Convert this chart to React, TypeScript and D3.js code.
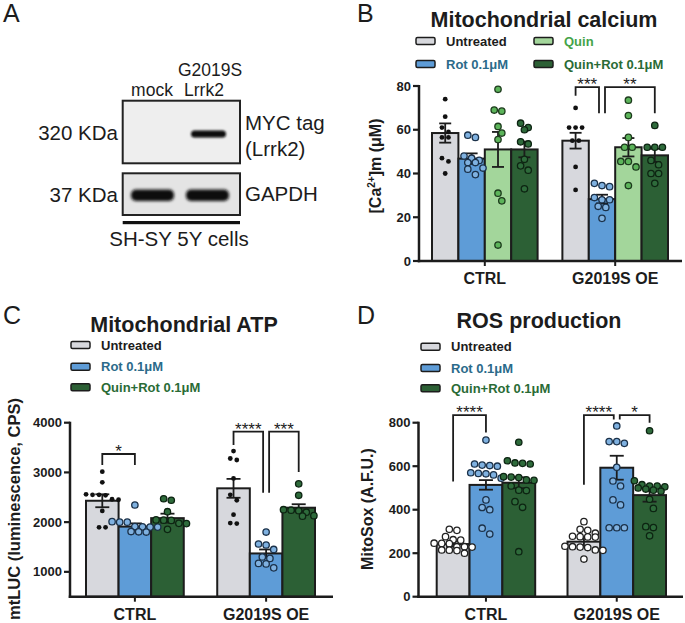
import React from "react";
import * as d3 from "d3";

const FONT = "'Liberation Sans', Arial, Helvetica, sans-serif";

// ---------- shared categories ----------
const groups = ["CTRL", "G2019S OE"];
const legendB = ["Untreated", "Rot 0.1μM", "Quin", "Quin+Rot 0.1μM"];
const legendCD = ["Untreated", "Rot 0.1μM", "Quin+Rot 0.1μM"];

// ---------- Panel B: mitochondrial calcium ----------
const caTicks = [0, 20, 40, 60, 80];
const caMean = [
  [58.5, 46.8, 51, 51],
  [55, 28.3, 52, 48.3],
];
const caSem = [
  [4.4, 2.4, 8, 3.6],
  [3.6, 2, 4.2, 3],
];
const caPoints = [
  [
    [74, 66, 61, 59, 56.5, 56.5, 47, 45.5, 40],
    [57.5, 56.5, 48, 47, 46, 45, 45, 42.5, 42, 39.5],
    [78.5, 69, 68.5, 61.5, 58.5, 55.5, 31, 27.5, 7.3],
    [63, 61, 60, 54.5, 53.5, 46.5, 43.5, 41.5, 33],
  ],
  [
    [70, 61, 61, 61, 55, 55, 43, 32.5],
    [35.5, 34.5, 34, 29, 28, 28, 25, 24.5, 19.5],
    [73.5, 66.5, 56.5, 52, 52, 45.5, 45.5, 43, 34.5],
    [62, 52, 52, 52, 46, 44, 40, 40, 35.5],
  ],
];
const caBrackets = [
  { g: 1, a: 0, b: 1, label: "***", top: 79.5, ya: 75.5, yb: 67.5 },
  { g: 1, a: 1, b: 3, label: "**", top: 79.5, ya: 67.5, yb: 67.5 },
];

// ---------- Panel C: mitochondrial ATP ----------
const atpTicks = [1000, 2000, 3000, 4000];
const atpMean = [
  [2430, 1910, 2080],
  [2680, 1370, 2290],
];
const atpSem = [
  [130, 65, 90],
  [190, 80, 70],
];
const atpPoints = [
  [
    [3015, 2800, 2560, 2550, 2550, 2540, 2460, 2450, 2225, 1895, 1895],
    [2345, 2010, 2000, 2000, 1910, 1905, 1900, 1900, 1810, 1805, 1800],
    [2470, 2440, 2210, 2045, 2040, 2035, 1975, 1970, 1855],
  ],
  [
    [3430, 3280, 3250, 2880, 2550, 2440, 2150, 1980, 1970],
    [1800, 1560, 1540, 1450, 1300, 1270, 1170, 1160, 1080],
    [2770, 2540, 2250, 2240, 2230, 2200, 2130, 2120],
  ],
];
const atpBrackets = [
  { g: 0, a: 0, b: 1, label: "*", top: 3370, ya: 3150, yb: 3150 },
  { g: 1, a: 0, b: 1, label: "****", top: 3820, ya: 3550, yb: 2590 },
  { g: 1, a: 1, b: 2, label: "***", top: 3820, ya: 2590, yb: 3010 },
];

// ---------- Panel D: ROS production ----------
const rosTicks = [0, 200, 400, 600, 800];
const rosMean = [
  [242, 514, 524],
  [253, 593, 467],
];
const rosSem = [
  [12, 22, 25],
  [20, 55, 30],
];
const rosPoints = [
  [
    [310, 305, 276, 262, 260, 246, 245, 244, 230, 230, 228, 215, 214, 212, 200],
    [720, 610, 605, 603, 600, 570, 567, 565, 560, 545, 445, 410, 400, 315, 288],
    [710, 625, 615, 613, 610, 552, 550, 548, 537, 535, 509, 490, 488, 437, 411, 207],
  ],
  [
    [345, 310, 305, 292, 278, 276, 275, 274, 232, 230, 228, 226, 215, 213, 173],
    [785, 713, 713, 705, 595, 532, 509, 445, 422, 317, 317, 317],
    [763, 533, 515, 509, 509, 505, 500, 495, 490, 485, 448, 406, 322, 318, 280],
  ],
];
const rosBrackets = [
  { g: 0, a: 0, b: 1, label: "****", top: 835, ya: 530, yb: 755 },
  { g: 1, a: 0, b: 1, label: "****", top: 835, ya: 515, yb: 815 },
  { g: 1, a: 1, b: 2, label: "*", top: 835, ya: 815, yb: 800 },
];

// ---------- styles ----------
const INK = "#1c1c1c";
const S_UNT = { bar: "#d7d8dd", text: "#1c1c1c", pt: { fill: "#111", stroke: "none", r: 2.4, sw: 0, gap: 6.5 } };
const S_UNT_D = { bar: "#d7d8dd", text: "#1c1c1c", pt: { fill: "#ffffff", stroke: "#222", r: 3.2, sw: 1.3, gap: 7.6 } };
const S_ROT = { bar: "#5e9cd7", text: "#2b6a8a", pt: { fill: "#7fb1e0", stroke: "#1b3149", r: 3.2, sw: 1.3, gap: 7.6 } };
const S_QUIN = { bar: "#a3d69b", text: "#45a349", pt: { fill: "#5cb45a", stroke: "#1d3b1d", r: 3.2, sw: 1.3, gap: 7.6 } };
const S_QR = { bar: "#2c6035", text: "#2a6b36", pt: { fill: "#2e6b3b", stroke: "#0d2412", r: 3.2, sw: 1.3, gap: 7.6 } };

// Prism-like scatter layout: points grouped in rows, each row centred
function swarmRows(ys: number[], D: number): number[] {
  const order = ys.map((_, i) => i).sort((a, b) => ys[a] - ys[b]);
  const out = new Array(ys.length).fill(0);
  let row: number[] = [];
  let y0 = -Infinity;
  let prevOdd = false;
  let prevY = -Infinity;
  const flush = () => {
    if (!row.length) return;
    const n = row.length;
    let shift = 0;
    const ymid = d3.mean(row, (i) => ys[i]) as number;
    if (n % 2 === 1 && prevOdd && ymid - prevY < D * 1.3) shift = D / 2;
    row.forEach((idx, k) => (out[idx] = (k - (n - 1) / 2) * D + shift));
    prevOdd = n % 2 === 1 && shift === 0;
    prevY = ymid;
  };
  for (const i of order) {
    if (ys[i] - y0 >= D * 0.85) {
      flush();
      row = [i];
      y0 = ys[i];
    } else row.push(i);
  }
  flush();
  return out;
}

type Bracket = { g: number; a: number; b: number; label: string; top: number; ya: number; yb: number };
type Style = { bar: string; text: string; pt: { fill: string; stroke: string; r: number; sw: number; gap: number } };

type ChartProps = {
  barRange: [number, number];
  padInner: number;
  axisX: [number, number];
  yDomain: [number, number];
  yRange: [number, number];
  ticks: number[];
  means: number[][];
  sems: number[][];
  points: number[][][];
  styles: Style[];
  brackets: Bracket[];
  xLabelY: number;
  capW: number;
};

function Chart(p: ChartProps) {
  const nT = p.styles.length;
  const xg = d3.scaleBand<string>().domain(groups).range(p.barRange).paddingInner(p.padInner).paddingOuter(0);
  const xt = d3.scaleBand<number>().domain(d3.range(nT)).range([0, xg.bandwidth()]);
  const y = d3.scaleLinear().domain(p.yDomain).range(p.yRange);
  const cx = (g: number, t: number) => (xg(groups[g]) as number) + (xt(t) as number) + xt.bandwidth() / 2;
  const base = p.yRange[0];
  const axL = p.axisX[0];

  const bars: React.ReactNode[] = [];
  const errs: React.ReactNode[] = [];
  const pts: React.ReactNode[] = [];
  groups.forEach((_, g) => {
    for (let t = 0; t < nT; t++) {
      const x0 = (xg(groups[g]) as number) + (xt(t) as number);
      const m = p.means[g][t];
      const s = p.sems[g][t];
      const st = p.styles[t];
      bars.push(
        <rect key={`b${g}${t}`} x={x0} y={y(m)} width={xt.bandwidth()} height={base - y(m)} fill={st.bar} stroke={INK} strokeWidth={2} />
      );
      const c = cx(g, t);
      errs.push(
        <g key={`e${g}${t}`} stroke={INK} strokeWidth={1.8}>
          <line x1={c} x2={c} y1={y(m + s)} y2={y(m - s)} />
          <line x1={c - p.capW / 2} x2={c + p.capW / 2} y1={y(m + s)} y2={y(m + s)} />
          <line x1={c - p.capW / 2} x2={c + p.capW / 2} y1={y(m - s)} y2={y(m - s)} />
        </g>
      );
      const vals = p.points[g][t];
      const ys = vals.map((v) => y(v));
      const offs = swarmRows(ys, st.pt.gap);
      vals.forEach((v, i) => {
        pts.push(
          <circle key={`p${g}${t}${i}`} cx={c + offs[i]} cy={ys[i]} r={st.pt.r} fill={st.pt.fill} stroke={st.pt.stroke} strokeWidth={st.pt.sw} />
        );
      });
    }
  });

  const brs = p.brackets.map((b, i) => {
    let xa = cx(b.g, b.a);
    let xb = cx(b.g, b.b);
    p.brackets.forEach((o, j) => {
      if (j === i || o.g !== b.g) return;
      if (o.a === b.b) xb -= 3;
      if (o.b === b.a) xa += 3;
    });
    return (
      <g key={`br${i}`}>
        <path d={`M${xa},${y(b.ya)}V${y(b.top)}H${xb}V${y(b.yb)}`} fill="none" stroke={INK} strokeWidth={1.8} />
        <text x={(xa + xb) / 2} y={y(b.top) + 3} textAnchor="middle" fontSize={17} fontFamily={FONT} fill={INK}>
          {b.label}
        </text>
      </g>
    );
  });

  return (
    <g>
      {bars}
      {errs}
      {pts}
      {brs}
      <line x1={axL} x2={axL} y1={p.yRange[1] - 1} y2={base + 1.25} stroke={INK} strokeWidth={2.5} />
      <line x1={axL - 1.25} x2={p.axisX[1]} y1={base} y2={base} stroke={INK} strokeWidth={2.5} />
      {p.ticks.map((t) => (
        <g key={`t${t}`}>
          <line x1={axL - 6} x2={axL} y1={y(t)} y2={y(t)} stroke={INK} strokeWidth={2.2} />
          <text x={axL - 8} y={y(t)} dy="0.35em" textAnchor="end" fontSize={13} fontWeight="bold" fontFamily={FONT} fill={INK}>
            {t}
          </text>
        </g>
      ))}
      {groups.map((gname, g) => {
        const c = (xg(gname) as number) + xg.bandwidth() / 2;
        return (
          <g key={`xl${g}`}>
            <line x1={c} x2={c} y1={base} y2={base + 5} stroke={INK} strokeWidth={2} />
            <text x={c} y={p.xLabelY} textAnchor="middle" fontSize={16} fontWeight="bold" fontFamily={FONT} fill={INK}>
              {gname}
            </text>
          </g>
        );
      })}
    </g>
  );
}

function Legend({ x, ys, labels, styles }: { x: number; ys: number[]; labels: string[]; styles: Style[] }) {
  return (
    <g>
      {labels.map((l, i) => (
        <g key={l}>
          <rect x={x} y={ys[i] - 3.5} width={19} height={7} rx={1.5} fill={styles[i].bar} stroke={INK} strokeWidth={1.5} />
          <text x={x + 30} y={ys[i]} dy="0.35em" fontSize={13} fontWeight="bold" fontFamily={FONT} fill={styles[i].text}>
            {l}
          </text>
        </g>
      ))}
    </g>
  );
}

function Blot() {
  return (
    <g fontFamily={FONT} fill={INK}>
      <defs>
        <filter id="blur1" x="-20%" y="-80%" width="140%" height="260%">
          <feGaussianBlur stdDeviation="1.3" />
        </filter>
        <filter id="blur2" x="-20%" y="-80%" width="140%" height="260%">
          <feGaussianBlur stdDeviation="1.6" />
        </filter>
      </defs>
      <text x={210} y={76} textAnchor="middle" fontSize={17.5}>G2019S</text>
      <text x={152} y={96} textAnchor="middle" fontSize={17.5}>mock</text>
      <text x={204} y={96} textAnchor="middle" fontSize={17.5}>Lrrk2</text>
      <rect x={122.7} y={100.7} width={117.3} height={62.6} fill="#eeeeee" stroke="#222" strokeWidth={2} />
      <rect x={191} y={130.5} width={35} height={7} rx={3.5} fill="#0d0d0d" filter="url(#blur1)" />
      <rect x={122.7} y={173.3} width={117.3} height={41.7} fill="#e4e4e4" stroke="#222" strokeWidth={2} />
      <rect x={131} y={189.5} width={43} height={11.5} rx={5} fill="#111" filter="url(#blur2)" />
      <rect x={186} y={189.5} width={43} height={11.5} rx={5} fill="#111" filter="url(#blur2)" />
      <text x={118} y={139.5} textAnchor="end" fontSize={20.5}>320 KDa</text>
      <text x={118} y={201.5} textAnchor="end" fontSize={20.5}>37 KDa</text>
      <text x={245} y={130} fontSize={20.5}>MYC tag</text>
      <text x={245} y={156} fontSize={20.5}>(Lrrk2)</text>
      <text x={245} y={201} fontSize={20.5}>GAPDH</text>
      <rect x={122.7} y={221} width={117.3} height={3.2} fill="#111" />
      <text x={179} y={246} textAnchor="middle" fontSize={20.5}>SH-SY 5Y cells</text>
    </g>
  );
}

export default function App() {
  const stB = [S_UNT, S_ROT, S_QUIN, S_QR];
  const stC = [S_UNT, S_ROT, S_QR];
  const stD = [S_UNT_D, S_ROT, S_QR];
  return (
    <svg width={685} height={623} viewBox="0 0 685 623" style={{ position: "absolute", left: 0, top: 0, background: "#fff" }}>
      <rect width={685} height={623} fill="#fff" />
      <g fontFamily={FONT} fontSize={25} fill={INK}>
        <text x={3} y={21.7}>A</text>
        <text x={357} y={21.7}>B</text>
        <text x={3} y={323.5}>C</text>
        <text x={357} y={323.5}>D</text>
      </g>
      <Blot />

      {/* Panel B */}
      <text x={544} y={26.7} textAnchor="middle" fontSize={21.5} fontWeight="bold" fontFamily={FONT} fill={INK}>
        Mitochondrial calcium
      </text>
      <Legend x={416} ys={[41, 64]} labels={[legendB[0], legendB[1]]} styles={[stB[0], stB[1]]} />
      <Legend x={534} ys={[41, 64]} labels={[legendB[2], legendB[3]]} styles={[stB[2], stB[3]]} />
      <Chart
        barRange={[432, 668]}
        padInner={0.19}
        axisX={[419, 682]}
        yDomain={[0, 80]}
        yRange={[261, 86]}
        ticks={caTicks}
        means={caMean}
        sems={caSem}
        points={caPoints}
        styles={stB}
        brackets={caBrackets}
        xLabelY={284}
        capW={12}
      />
      <text transform="translate(381,166) rotate(-90)" textAnchor="middle" fontSize={16} fontWeight="bold" fontFamily={FONT} fill={INK}>
        [Ca<tspan dy={-6} fontSize={10}>2+</tspan>
        <tspan dy={6}>]m (μM)</tspan>
      </text>

      {/* Panel C */}
      <text x={184} y={331.7} textAnchor="middle" fontSize={21.5} fontWeight="bold" fontFamily={FONT} fill={INK}>
        Mitochondrial ATP
      </text>
      <Legend x={71} ys={[345, 366.7, 387.3]} labels={legendCD} styles={stC} />
      <Chart
        barRange={[86, 315]}
        padInner={0.255}
        axisX={[70, 333]}
        yDomain={[500, 4000]}
        yRange={[596.7, 422.7]}
        ticks={atpTicks}
        means={atpMean}
        sems={atpSem}
        points={atpPoints}
        styles={stC}
        brackets={atpBrackets}
        xLabelY={620}
        capW={14}
      />
      <text transform="translate(20,509) rotate(-90)" textAnchor="middle" fontSize={16.5} fontWeight="bold" fontFamily={FONT} fill={INK}>
        mtLUC (luminescence, CPS)
      </text>

      {/* Panel D */}
      <text x={539} y={328} textAnchor="middle" fontSize={21.5} fontWeight="bold" fontFamily={FONT} fill={INK}>
        ROS production
      </text>
      <Legend x={421} ys={[346.7, 368, 388.3]} labels={legendCD} styles={stD} />
      <Chart
        barRange={[436.7, 666]}
        padInner={0.247}
        axisX={[418.5, 683]}
        yDomain={[0, 800]}
        yRange={[596.7, 422.7]}
        ticks={rosTicks}
        means={rosMean}
        sems={rosSem}
        points={rosPoints}
        styles={stD}
        brackets={rosBrackets}
        xLabelY={620}
        capW={14}
      />
      <text transform="translate(373,509) rotate(-90)" textAnchor="middle" fontSize={16} fontWeight="bold" fontFamily={FONT} fill={INK}>
        MitoSox (A.F.U.)
      </text>
    </svg>
  );
}
